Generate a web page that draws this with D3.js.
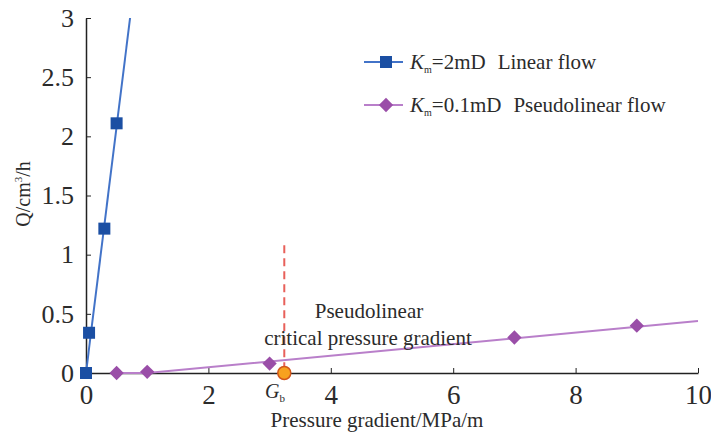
<!DOCTYPE html>
<html>
<head>
<meta charset="utf-8">
<script src="https://cdn.jsdelivr.net/npm/d3@7"></script>
<style>
body { margin:0; background:#fff; }
text { font-family:"Liberation Serif","Times New Roman",serif; fill:#2b2b2b; }
</style>
</head>
<body>
<script>
// data
var linearX = [0, 0.05, 0.3, 0.5];
var linearQ = [0, 0.34, 1.22, 2.11];
var linearFitX = [0, 0.72];
var linearFitQ = [0, 3];

var pseudoX = [0.5, 1, 3, 7, 9];
var pseudoQ = [0, 0.01, 0.08, 0.3, 0.4];
var pseudoFitX = [0.5, 1, 10];
var pseudoFitQ = [0, 0, 0.44];

var gb = 3.24;
var gbLineTop = 1.08;

var xTicks = [0, 2, 4, 6, 8, 10];
var yTicks = [0, 0.5, 1, 1.5, 2, 2.5, 3];

var width = 711, height = 441;
var svg = d3.select("body").append("svg")
    .attr("width", width)
    .attr("height", height);

var x = d3.scaleLinear().domain([0, 10]).range([86, 698]);
var y = d3.scaleLinear().domain([0, 3]).range([373, 18]);

var blueLine = "#4273c8", blueMark = "#1b4fa3";
var purpLine = "#b97fca", purpMark = "#9a4ea8";

// axes
var xAxis = d3.axisBottom(x).tickValues(xTicks).tickSize(-5).tickSizeOuter(0).tickFormat(d3.format("d"));
var gx = svg.append("g").attr("transform", "translate(0," + y(0) + ")").call(xAxis);
gx.select(".domain").attr("stroke", "#222").attr("stroke-width", 1.5);
gx.selectAll(".tick line").attr("stroke", "#222");
gx.selectAll(".tick text").attr("font-size", 27).attr("y", 5).attr("dy", "0.95em")
    .style("font-family", "Liberation Serif").attr("fill", "#2b2b2b");

var yAxis = d3.axisLeft(y).tickValues(yTicks).tickSize(-5).tickSizeOuter(0).tickFormat(function(d){ return d; });
var gy = svg.append("g").attr("transform", "translate(" + x(0) + ",0)").call(yAxis);
gy.select(".domain").attr("stroke", "#222").attr("stroke-width", 1.5);
gy.selectAll(".tick line").attr("stroke", "#222");
gy.selectAll(".tick text").attr("font-size", 26).attr("x", -12)
    .style("font-family", "Liberation Serif").attr("fill", "#2b2b2b");

// axis titles
svg.append("text").attr("x", 377).attr("y", 427).attr("text-anchor", "middle")
    .attr("font-size", 21).text("Pressure gradient/MPa/m");

var yl = svg.append("text").attr("transform", "translate(30,194) rotate(-90)")
    .attr("text-anchor", "middle").attr("font-size", 20);
yl.append("tspan").text("Q/cm");
yl.append("tspan").attr("font-size", 11).attr("dy", -8).text("3");
yl.append("tspan").attr("dy", 8).text("/h");

// critical gradient marker
svg.append("line")
    .attr("x1", x(gb)).attr("x2", x(gb))
    .attr("y1", y(gbLineTop)).attr("y2", y(0))
    .attr("stroke", "#e8605a").attr("stroke-width", 2)
    .attr("stroke-dasharray", "8,5");

var line = d3.line().x(function(d){ return x(d[0]); }).y(function(d){ return y(d[1]); });

svg.append("path").datum(d3.zip(linearFitX, linearFitQ))
    .attr("d", line).attr("fill", "none").attr("stroke", blueLine).attr("stroke-width", 2);
svg.append("path").datum(d3.zip(pseudoFitX, pseudoFitQ))
    .attr("d", line).attr("fill", "none").attr("stroke", purpLine).attr("stroke-width", 2);

// markers
svg.selectAll(".sq").data(d3.zip(linearX, linearQ)).enter().append("rect")
    .attr("x", function(d){ return x(d[0]) - 6; })
    .attr("y", function(d){ return y(d[1]) - 6; })
    .attr("width", 12).attr("height", 12)
    .attr("fill", blueMark);

var diamond = d3.symbol().type(d3.symbolDiamond2).size(130);
svg.selectAll(".dm").data(d3.zip(pseudoX, pseudoQ)).enter().append("path")
    .attr("d", diamond)
    .attr("transform", function(d){ return "translate(" + x(d[0]) + "," + y(d[1]) + ")"; })
    .attr("fill", purpMark);

svg.append("circle").attr("cx", x(gb)).attr("cy", y(0)).attr("r", 6.5)
    .attr("fill", "#f7a11f").attr("stroke", "#d2561b").attr("stroke-width", 1.5);

// G_b label
var gl = svg.append("text").attr("x", 265).attr("y", 398).attr("font-size", 20);
gl.append("tspan").attr("font-style", "italic").text("G");
gl.append("tspan").attr("font-size", 11).attr("dy", 4).text("b");

// annotation
svg.append("text").attr("x", 369).attr("y", 318).attr("text-anchor", "middle")
    .attr("font-size", 21).text("Pseudolinear");
svg.append("text").attr("x", 368).attr("y", 345).attr("text-anchor", "middle")
    .attr("font-size", 21).text("critical pressure gradient");

// legend
var legend = [
  { k: "=2mD", name: "Linear flow", color: blueLine, mark: blueMark, shape: "sq", y: 62 },
  { k: "=0.1mD", name: "Pseudolinear flow", color: purpLine, mark: purpMark, shape: "dm", y: 105 }
];
legend.forEach(function(l) {
  svg.append("line").attr("x1", 364).attr("x2", 403).attr("y1", l.y).attr("y2", l.y)
      .attr("stroke", l.color).attr("stroke-width", 2);
  if (l.shape == "sq") {
    svg.append("rect").attr("x", 380).attr("y", l.y - 6).attr("width", 12).attr("height", 12).attr("fill", l.mark);
  } else {
    svg.append("path").attr("d", diamond).attr("transform", "translate(386," + l.y + ")").attr("fill", l.mark);
  }
  var t = svg.append("text").attr("x", 410).attr("y", l.y + 7).attr("font-size", 21);
  t.append("tspan").attr("font-style", "italic").text("K");
  t.append("tspan").attr("font-size", 10).attr("dy", 4).text("m");
  t.append("tspan").attr("dy", -4).text(l.k);
  t.append("tspan").attr("dx", 12).text(l.name);
});
</script>
</body>
</html>
